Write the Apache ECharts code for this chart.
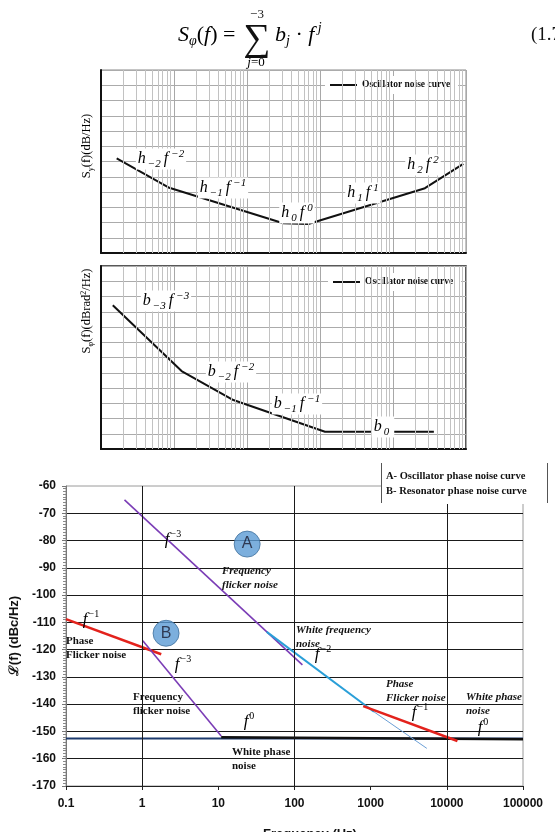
<!DOCTYPE html>
<html>
<head>
<meta charset="utf-8">
<script src="https://cdn.jsdelivr.net/npm/echarts@6/dist/echarts.min.js"></script>
<style>
html, body { margin: 0; padding: 0; background: #fff; }
#main { width: 555px; height: 832px; }
</style>
</head>
<body>
<div id="main"></div>
<script>
// chart 1: S_y(f) asymptote curve (arbitrary dB scale, no tick labels)
const syCurve = [[1.64, 6.2], [8.4, 4.3], [314, 1.95], [692, 1.9], [27400, 4.25], [91800, 5.85]];
// chart 2: S_phi(f) asymptote curve
const sphiCurve = [[1.45, 9.43], [12.7, 5.11], [65, 3.21], [1170, 1.13], [36300, 1.13]];

// chart 3: L(f) in dBc/Hz vs frequency in Hz
const freqMin = 0.1, freqMax = 100000;
const levelMin = -170, levelMax = -60, levelStep = 10;
const majorFreqLines = [1, 100, 10000];
// A - oscillator
const oscFlickerFreq = [[0.586, -65.1], [127, -125.6]];
const oscWhiteFreq = [[43.2, -113.5], [1104, -142.8]];
const oscWhiteFreqTail = [[1104, -142.8], [5460, -156.2]];
const oscFlickerPhase = [[798, -140.7], [13770, -153.5]];
const oscWhitePhase = [[10.9, -152.1], [100000, -152.9]];
// B - resonator
const resFlickerPhase = [[0.1, -108.8], [1.78, -121.7]];
const resFlickerFreq = [[1.02, -116.7], [10.9, -151.7]];
const resWhitePhase = [[0.1, -152.6], [100000, -152.6]];
const curveTags = [['A', 23.9, -81.3], ['B', 2.06, -114.0]];

// minor log grid for the two small charts
const minorFreqs = [];
[1, 10, 100, 1000, 10000].forEach(d => {
    for (let m = 2; m <= 9; m++) minorFreqs.push(m * d);
});

const SERIF = '"Liberation Serif", "DejaVu Serif", serif';
const SANS = '"Liberation Sans", Arial, sans-serif';

let myChart = echarts.init(document.getElementById('main'));

// small math labels like h_{-2} f^{-2}
const mathRich = {
    i: { fontStyle: 'italic', fontSize: 16, fontFamily: SERIF, lineHeight: 21, color: '#111', padding: [0, 1, 0, 0] },
    sb: { fontStyle: 'italic', fontSize: 11, fontFamily: SERIF, lineHeight: 12, verticalAlign: 'bottom', color: '#111', padding: [0, 3, 0, 1] },
    sp: { fontStyle: 'italic', fontSize: 11, fontFamily: SERIF, lineHeight: 12, verticalAlign: 'top', color: '#111', padding: [0, 0, 0, 2] }
};
function mathLabel(x, y, text) {
    return {
        type: 'text', x: x, y: y, z: 50,
        style: { text: text, rich: mathRich, align: 'center', verticalAlign: 'middle',
                 backgroundColor: '#fff', padding: [0, 2] }
    };
}
// f^k labels on the bottom chart
const fRich = {
    f: { fontStyle: 'italic', fontSize: 17, fontFamily: SERIF, lineHeight: 22, color: '#111' },
    s: { fontSize: 10, fontFamily: SERIF, lineHeight: 11, verticalAlign: 'top', color: '#111', padding: [0, 0, 0, 1] }
};
function fLabel(x, y, pow) {
    return {
        type: 'text', x: x, y: y, z: 50,
        style: { text: '{f|f}{s|' + pow + '}', rich: fRich, align: 'center', verticalAlign: 'middle' }
    };
}
function note(x, y, text, italic) {
    return {
        type: 'text', x: x, y: y, z: 50,
        style: { text: text, fill: '#111', font: (italic ? 'italic ' : '') + 'bold 11px ' + SERIF,
                 lineHeight: 13.5, align: 'left', verticalAlign: 'top' }
    };
}

function smallXAxis(idx) {
    return {
        gridIndex: idx, type: 'log', logBase: 10, min: 1, max: 100000,
        axisLabel: { show: false }, axisTick: { show: false },
        axisLine: { show: true, lineStyle: { color: '#111', width: 2 } },
        splitLine: { show: true, lineStyle: { color: '#a8a8a8', width: 1 } }
    };
}
function smallYAxis(idx) {
    return {
        gridIndex: idx, type: 'value', min: 0, max: 12, interval: 1,
        axisLabel: { show: false }, axisTick: { show: false },
        axisLine: { show: true, lineStyle: { color: '#111', width: 2 } },
        splitLine: { show: true, lineStyle: { color: '#ababab', width: 1 } }
    };
}
function minorGrid(idx) {
    return {
        type: 'line', xAxisIndex: idx, yAxisIndex: idx, data: [], silent: true, z: 1,
        markLine: {
            silent: true, symbol: 'none', label: { show: false },
            lineStyle: { color: '#c2c2c2', width: 1, type: 'solid' },
            data: minorFreqs.map(v => ({ xAxis: v }))
        }
    };
}
function seg(name, data, color, width) {
    return {
        name: name, type: 'line', xAxisIndex: 2, yAxisIndex: 2, data: data,
        showSymbol: false, symbol: 'none', z: 3,
        lineStyle: { color: color, width: width }
    };
}

var option = {
    backgroundColor: '#fff',
    animation: false,
    grid: [
        { left: 101, top: 70, width: 365, height: 183, show: true, borderColor: '#8a8a8a', borderWidth: 1 },
        { left: 101, top: 266, width: 365, height: 183, show: true, borderColor: '#222', borderWidth: 1.5 },
        { left: 54, top: 486, width: 469, height: 300, show: true, borderColor: '#9a9a9a', borderWidth: 1 }
    ],
    legend: [
        {
            data: ['Oscillator noise curve'], left: 325, top: 76, padding: [4, 8, 4, 5],
            backgroundColor: '#fff', icon: 'rect', itemWidth: 27, itemHeight: 2, itemGap: 6,
            textStyle: { fontFamily: SERIF, fontWeight: 'bold', fontSize: 9.5, color: '#111' }
        },
        {
            data: ['Oscillator noise curve'], left: 328, top: 273, padding: [4, 8, 4, 5],
            backgroundColor: '#fff', icon: 'rect', itemWidth: 27, itemHeight: 2, itemGap: 6,
            textStyle: { fontFamily: SERIF, fontWeight: 'bold', fontSize: 9.5, color: '#111' }
        }
    ],
    xAxis: [
        smallXAxis(0),
        smallXAxis(1),
        {
            gridIndex: 2, type: 'log', logBase: 10, min: freqMin, max: freqMax,
            axisLine: { show: true, lineStyle: { color: '#222', width: 1 } },
            axisTick: { show: true, length: 4, lineStyle: { color: '#222' } },
            splitLine: { show: false },
            axisLabel: {
                margin: 12, color: '#111', fontFamily: SANS, fontWeight: 'bold', fontSize: 12,
                formatter: v => String(+Number(v).toPrecision(6))
            }
        }
    ],
    yAxis: [
        smallYAxis(0),
        smallYAxis(1),
        {
            gridIndex: 2, type: 'value', min: levelMin, max: levelMax, interval: levelStep,
            name: 'ℒ(f) (dBc/Hz)', nameLocation: 'middle', nameGap: 45, nameRotate: 90,
            nameTextStyle: { fontFamily: SANS, fontWeight: 'bold', fontSize: 13, color: '#111' },
            axisLine: { show: true, lineStyle: { color: '#777' } },
            axisTick: { show: true, length: 4, lineStyle: { color: '#777' } },
            minorTick: { show: true, splitNumber: 10, length: 3, lineStyle: { color: '#888' } },
            axisLabel: { margin: 10, color: '#111', fontFamily: SANS, fontWeight: 'bold', fontSize: 12 },
            splitLine: { show: true, showMaxLine: false, lineStyle: { color: '#1a1a1a', width: 1 } }
        }
    ],
    series: [
        minorGrid(0),
        minorGrid(1),
        {
            name: 'Oscillator noise curve', type: 'line', xAxisIndex: 0, yAxisIndex: 0, data: syCurve,
            showSymbol: false, symbol: 'none', z: 3, color: '#111', lineStyle: { color: '#111', width: 2 }
        },
        {
            name: 'Oscillator noise curve', type: 'line', xAxisIndex: 1, yAxisIndex: 1, data: sphiCurve,
            showSymbol: false, symbol: 'none', z: 3, color: '#111', lineStyle: { color: '#111', width: 2 }
        },
        {
            type: 'line', xAxisIndex: 2, yAxisIndex: 2, data: [], silent: true, z: 1,
            markLine: {
                silent: true, symbol: 'none', label: { show: false },
                lineStyle: { color: '#1a1a1a', width: 1, type: 'solid' },
                data: majorFreqLines.map(v => ({ xAxis: v }))
            }
        },
        seg('B white phase', resWhitePhase, '#1d3a6e', 2),
        seg('A white phase', oscWhitePhase, '#111', 2.5),
        seg('B flicker phase', resFlickerPhase, '#e3221c', 2.5),
        seg('B flicker freq', resFlickerFreq, '#7b3db6', 1.6),
        seg('A flicker freq', oscFlickerFreq, '#7b3db6', 1.6),
        seg('A white freq tail', oscWhiteFreqTail, '#6b9fd6', 1),
        seg('A white freq', oscWhiteFreq, '#2a9fd8', 2),
        seg('A flicker phase', oscFlickerPhase, '#e3221c', 2.5),
        {
            type: 'scatter', xAxisIndex: 2, yAxisIndex: 2, z: 5,
            data: curveTags.map(t => ({ name: t[0], value: [t[1], t[2]] })),
            symbol: 'circle', symbolSize: 26,
            itemStyle: { color: '#5b9bd5', borderColor: '#41719c', borderWidth: 1 },
            label: { show: true, position: 'inside', formatter: '{b}', color: '#1b1b2f',
                     fontFamily: SANS, fontSize: 16 }
        }
    ],
    graphic: [
        // formula
        {
            type: 'text', x: 178, y: 35, style: {
                text: '{i|S}{sb|φ}{n|(}{i|f}{n|) =}', verticalAlign: 'middle',
                rich: {
                    i: { fontStyle: 'italic', fontSize: 22, fontFamily: SERIF, lineHeight: 27, color: '#111' },
                    n: { fontSize: 22, fontFamily: SERIF, lineHeight: 27, color: '#111' },
                    sb: { fontStyle: 'italic', fontSize: 14, fontFamily: SERIF, lineHeight: 14, verticalAlign: 'bottom', color: '#111' }
                }
            }
        },
        { type: 'text', x: 257, y: 40, style: { text: '∑', font: '38px ' + SERIF, fill: '#111', align: 'center', verticalAlign: 'middle' } },
        { type: 'text', x: 257, y: 15, style: { text: '−3', font: '13px ' + SERIF, fill: '#111', align: 'center', verticalAlign: 'middle' } },
        {
            type: 'text', x: 256, y: 63, style: {
                text: '{i|j}{n|=0}', align: 'center', verticalAlign: 'middle',
                rich: {
                    i: { fontStyle: 'italic', fontSize: 13, fontFamily: SERIF, color: '#111' },
                    n: { fontSize: 13, fontFamily: SERIF, color: '#111' }
                }
            }
        },
        {
            type: 'text', x: 275, y: 35, style: {
                text: '{i|b}{sb|j}{n| · }{i|f}{sp| j}', verticalAlign: 'middle',
                rich: {
                    i: { fontStyle: 'italic', fontSize: 22, fontFamily: SERIF, lineHeight: 27, color: '#111' },
                    n: { fontSize: 22, fontFamily: SERIF, lineHeight: 27, color: '#111' },
                    sb: { fontStyle: 'italic', fontSize: 14, fontFamily: SERIF, lineHeight: 14, verticalAlign: 'bottom', color: '#111' },
                    sp: { fontStyle: 'italic', fontSize: 14, fontFamily: SERIF, lineHeight: 14, verticalAlign: 'top', color: '#111' }
                }
            }
        },
        { type: 'text', x: 531, y: 35, style: { text: '(1.78', font: '19px ' + SERIF, fill: '#111', align: 'left', verticalAlign: 'middle' } },

        // axis names of the two small charts
        {
            type: 'text', x: 87, y: 146, rotation: Math.PI / 2, style: {
                text: '{n|S}{sb|y}{n|(f)(dB/Hz)}', align: 'center', verticalAlign: 'middle',
                rich: {
                    n: { fontSize: 12.5, fontFamily: SERIF, color: '#111', lineHeight: 15 },
                    sb: { fontSize: 8, fontFamily: SERIF, color: '#111', lineHeight: 9, verticalAlign: 'bottom' }
                }
            }
        },
        {
            type: 'text', x: 87, y: 311, rotation: Math.PI / 2, style: {
                text: '{n|S}{sb|φ}{n|(f)(dBrad}{sp|2}{n|/Hz)}', align: 'center', verticalAlign: 'middle',
                rich: {
                    n: { fontSize: 12.5, fontFamily: SERIF, color: '#111', lineHeight: 15 },
                    sb: { fontSize: 8, fontFamily: SERIF, color: '#111', lineHeight: 9, verticalAlign: 'bottom' },
                    sp: { fontSize: 8, fontFamily: SERIF, color: '#111', lineHeight: 9, verticalAlign: 'top' }
                }
            }
        },

        // chart 1 labels
        mathLabel(161, 159, '{i|h}{sb|−2}{i|f}{sp|−2}'),
        mathLabel(223, 188, '{i|h}{sb|−1}{i|f}{sp|−1}'),
        mathLabel(297, 213, '{i|h}{sb|0}{i|f}{sp|0}'),
        mathLabel(363, 193, '{i|h}{sb|1}{i|f}{sp|1}'),
        mathLabel(423, 165, '{i|h}{sb|2}{i|f}{sp|2}'),
        // chart 2 labels
        mathLabel(166, 301, '{i|b}{sb|−3}{i|f}{sp|−3}'),
        mathLabel(231, 372, '{i|b}{sb|−2}{i|f}{sp|−2}'),
        mathLabel(297, 404, '{i|b}{sb|−1}{i|f}{sp|−1}'),
        mathLabel(383, 427, '{i|b}{sb|0}'),

        // bottom chart annotations, curve A
        fLabel(173, 540, '−3'),
        note(222, 564.5, 'Frequency\nflicker noise', true),
        note(296, 623.5, 'White frequency\nnoise', true),
        fLabel(323, 655, '−2'),
        note(386, 677.5, 'Phase\nFlicker noise', true),
        fLabel(420, 713, '−1'),
        note(466, 690.5, 'White phase\nnoise', true),
        fLabel(483, 728, '0'),
        // curve B
        fLabel(91, 620, '−1'),
        note(66, 634.5, 'Phase\nFlicker noise', false),
        fLabel(183, 665, '−3'),
        note(133, 690.5, 'Frequency\nflicker noise', false),
        fLabel(249, 722, '0'),
        note(232, 745.5, 'White phase\nnoise', false),

        // A/B key box
        { type: 'rect', z: 60, shape: { x: 381, y: 462, width: 166, height: 42 }, style: { fill: '#fff' } },
        { type: 'line', z: 61, shape: { x1: 381.5, y1: 463, x2: 381.5, y2: 503 }, style: { stroke: '#555', lineWidth: 1 } },
        { type: 'line', z: 61, shape: { x1: 547.5, y1: 463, x2: 547.5, y2: 503 }, style: { stroke: '#555', lineWidth: 1 } },
        { type: 'text', z: 62, x: 386, y: 476, style: { text: 'A- Oscillator phase noise curve', font: 'bold 10.5px ' + SERIF, fill: '#111', verticalAlign: 'middle' } },
        { type: 'text', z: 62, x: 386, y: 491, style: { text: 'B- Resonator phase noise curve', font: 'bold 10.5px ' + SERIF, fill: '#111', verticalAlign: 'middle' } },

        // x axis title (cut by the page edge)
        { type: 'text', x: 310, y: 828, style: { text: 'Frequency (Hz)', font: 'bold 13px ' + SANS, fill: '#111', align: 'center', verticalAlign: 'top' } }
    ]
};

myChart.setOption(option);
</script>
</body>
</html>
